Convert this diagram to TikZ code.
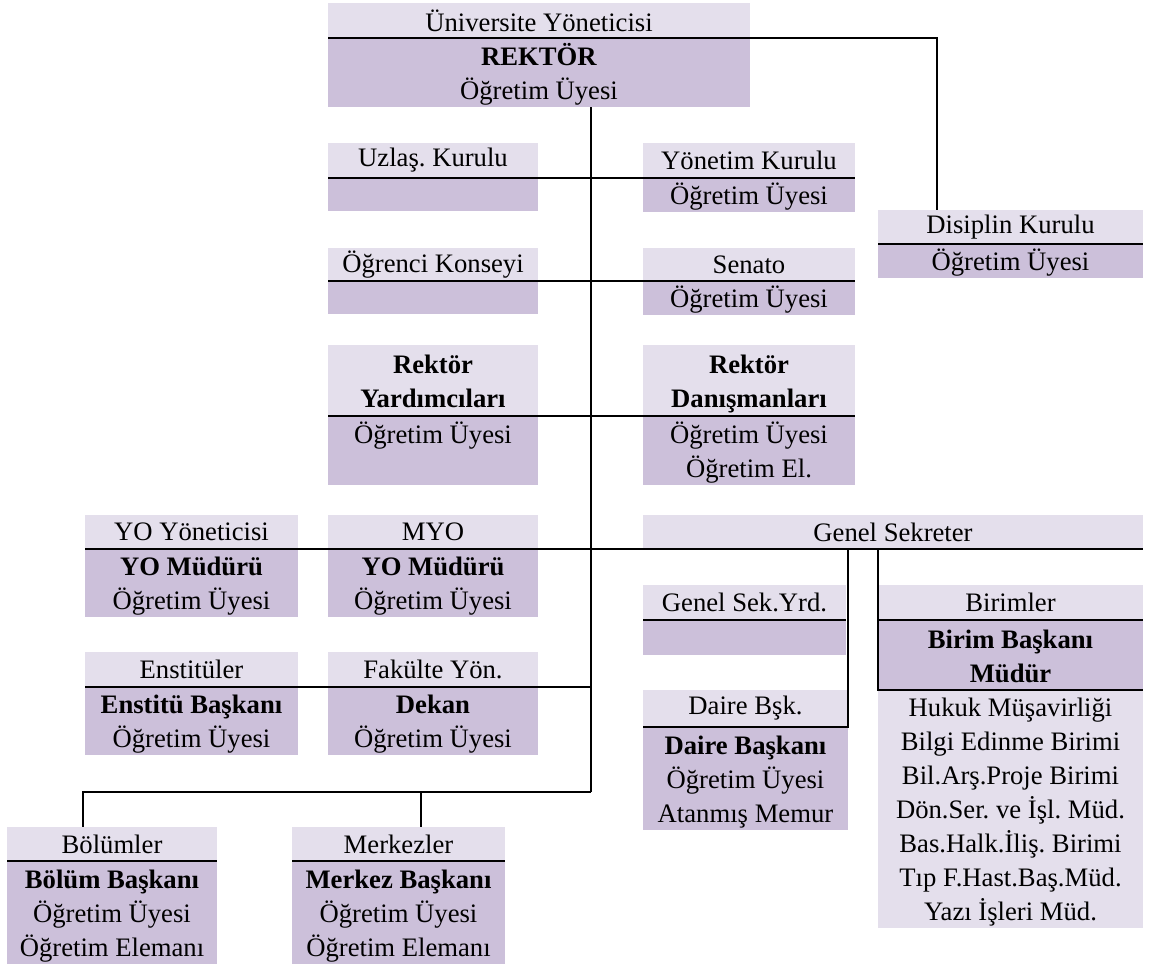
\documentclass[tikz,border=0pt]{standalone}
\usepackage{fontspec}
\setmainfont{Liberation Serif}
\definecolor{hdfill}{HTML}{E4DFEC}
\definecolor{bdfill}{HTML}{CCC0DA}
\tikzset{
  cellbase/.style={inner sep=0pt, outer sep=0pt, align=center,
    font=\fontsize{20}{25.5}\selectfont\frenchspacing},
  hd/.style={cellbase, fill=hdfill},
  bd/.style={cellbase, fill=bdfill},
  link/.style={draw=black, line width=1.6pt, line join=miter}
}
% a strut one line high, so every text line takes the same room
\newcommand\rowst{\rule[-0.2\baselineskip]{0pt}{\baselineskip}}
% \cell{style}{name}{x1}{y1}{x2}{y2}{text}: a filled cell given by its corners
\newcommand\cell[7]{%
  \node[#1, minimum width={(#5-#3)*0.75pt}, minimum height={(#6-#4)*0.75pt}]
    (#2) at ({(#3+#5)/2},{(#4+#6)/2}) {#7};}
\begin{document}
\begin{tikzpicture}[x=0.75pt, y=-0.75pt]
\useasboundingbox (0,0) rectangle (1149,964);

% Rector
\cell{hd}{top-h}{328}{3}{750}{38}{Üniversite Yöneticisi}
\cell{bd}{top-b}{328}{38}{750}{107}{\rowst\textbf{REKTÖR}\\\rowst Öğretim Üyesi}

% Boards
\cell{hd}{uz-h}{328}{143}{538}{178}{Uzlaş. Kurulu}
\cell{bd}{uz-b}{328}{178}{538}{211}{}
\cell{hd}{yk-h}{643}{143}{855}{178}{Yönetim Kurulu}
\cell{bd}{yk-b}{643}{178}{855}{211}{\rowst Öğretim Üyesi}
\cell{hd}{dk-h}{878}{210}{1143}{244}{Disiplin Kurulu}
\cell{bd}{dk-b}{878}{244}{1143}{277}{\rowst Öğretim Üyesi}
\cell{hd}{ok-h}{328}{248}{538}{281}{Öğrenci Konseyi}
\cell{bd}{ok-b}{328}{281}{538}{314}{}
\cell{hd}{se-h}{643}{248}{855}{281}{Senato}
\cell{bd}{se-b}{643}{281}{855}{314}{\rowst Öğretim Üyesi}
\cell{hd}{ry-h}{328}{345}{538}{416}{\rowst\textbf{Rektör}\\\rowst\textbf{Yardımcıları}}
\cell{bd}{ry-b}{328}{416}{538}{485}{\rowst Öğretim Üyesi\\\rowst}
\cell{hd}{rd-h}{643}{345}{855}{416}{\rowst\textbf{Rektör}\\\rowst\textbf{Danışmanları}}
\cell{bd}{rd-b}{643}{416}{855}{485}{\rowst Öğretim Üyesi\\\rowst Öğretim El.}

% Schools, faculties, general secretary
\cell{hd}{yo-h}{85}{515}{298}{549}{YO Yöneticisi}
\cell{bd}{yo-b}{85}{549}{298}{616}{\rowst\textbf{YO Müdürü}\\\rowst Öğretim Üyesi}
\cell{hd}{my-h}{328}{515}{538}{549}{MYO}
\cell{bd}{my-b}{328}{549}{538}{616}{\rowst\textbf{YO Müdürü}\\\rowst Öğretim Üyesi}
\cell{hd}{gs-h}{643}{515}{1143}{549}{Genel Sekreter}
\cell{hd}{en-h}{85}{652}{298}{687}{Enstitüler}
\cell{bd}{en-b}{85}{687}{298}{754}{\rowst\textbf{Enstitü Başkanı}\\\rowst Öğretim Üyesi}
\cell{hd}{fy-h}{328}{652}{538}{687}{Fakülte Yön.}
\cell{bd}{fy-b}{328}{687}{538}{754}{\rowst\textbf{Dekan}\\\rowst Öğretim Üyesi}
\cell{hd}{gy-h}{643}{585}{846}{620}{Genel Sek.Yrd.}
\cell{bd}{gy-b}{643}{620}{846}{655}{}
\cell{hd}{db-h}{643}{690}{848}{727}{Daire Bşk.}
\cell{bd}{db-b}{643}{727}{848}{830}{\rowst\textbf{Daire Başkanı}\\\rowst Öğretim Üyesi\\\rowst Atanmış Memur}
\cell{hd}{bi-h}{878}{585}{1143}{620}{Birimler}
\cell{bd}{bi-b}{878}{620}{1143}{690}{\rowst\textbf{Birim Başkanı}\\\rowst\textbf{Müdür}}
\cell{hd}{bi-l}{878}{690}{1143}{927}{\rowst Hukuk Müşavirliği\\\rowst Bilgi Edinme Birimi\\\rowst Bil.Arş.Proje Birimi\\\rowst Dön.Ser. ve İşl. Müd.\\\rowst Bas.Halk.İliş. Birimi\\\rowst Tıp F.Hast.Baş.Müd.\\\rowst Yazı İşleri Müd.}

% Departments and centres
\cell{hd}{bo-h}{7}{827}{217}{861}{Bölümler}
\cell{bd}{bo-b}{7}{861}{217}{964}{\rowst\textbf{Bölüm Başkanı}\\\rowst Öğretim Üyesi\\\rowst Öğretim Elemanı}
\cell{hd}{mk-h}{292}{827}{505}{861}{Merkezler}
\cell{bd}{mk-b}{292}{861}{505}{964}{\rowst\textbf{Merkez Başkanı}\\\rowst Öğretim Üyesi\\\rowst Öğretim Elemanı}

% Branch points
\coordinate (trunk-top) at (591,107);
\coordinate (trunk-bot) at (591,792);
\coordinate (bo-drop) at (83,792);
\coordinate (mk-drop) at (421,792);

% Connectors
\draw[link] (top-h.south west) -- (top-h.south east) -| ([xshift=44.25pt]dk-h.north west);
\draw[link] (trunk-top) -- (trunk-bot);
\draw[link] (uz-h.south west) -- (yk-h.south east);
\draw[link] (dk-h.south west) -- (dk-h.south east);
\draw[link] (ok-h.south west) -- (se-h.south east);
\draw[link] (ry-h.south west) -- (rd-h.south east);
\draw[link] (yo-h.south west) -- (gs-h.south east);
\draw[link] (en-h.south west) -- (en-h.south west -| trunk-top);
\draw[link] (gy-h.south west) -- (gy-h.south east);
\draw[link] (gs-h.south -| db-h.east) -- (db-h.south east) -- (db-h.south west);
\draw[link] (gs-h.south -| bi-h.west) -- (bi-b.south west) -- (bi-b.south east);
\draw[link] (bi-h.south west) -- (bi-h.south east);
\draw[link] (trunk-bot) -- (bo-drop) -- (bo-drop |- bo-h.north);
\draw[link] (mk-drop) -- (mk-drop |- mk-h.north);
\draw[link] (bo-h.south west) -- (bo-h.south east);
\draw[link] (mk-h.south west) -- (mk-h.south east);
\end{tikzpicture}
\end{document}
